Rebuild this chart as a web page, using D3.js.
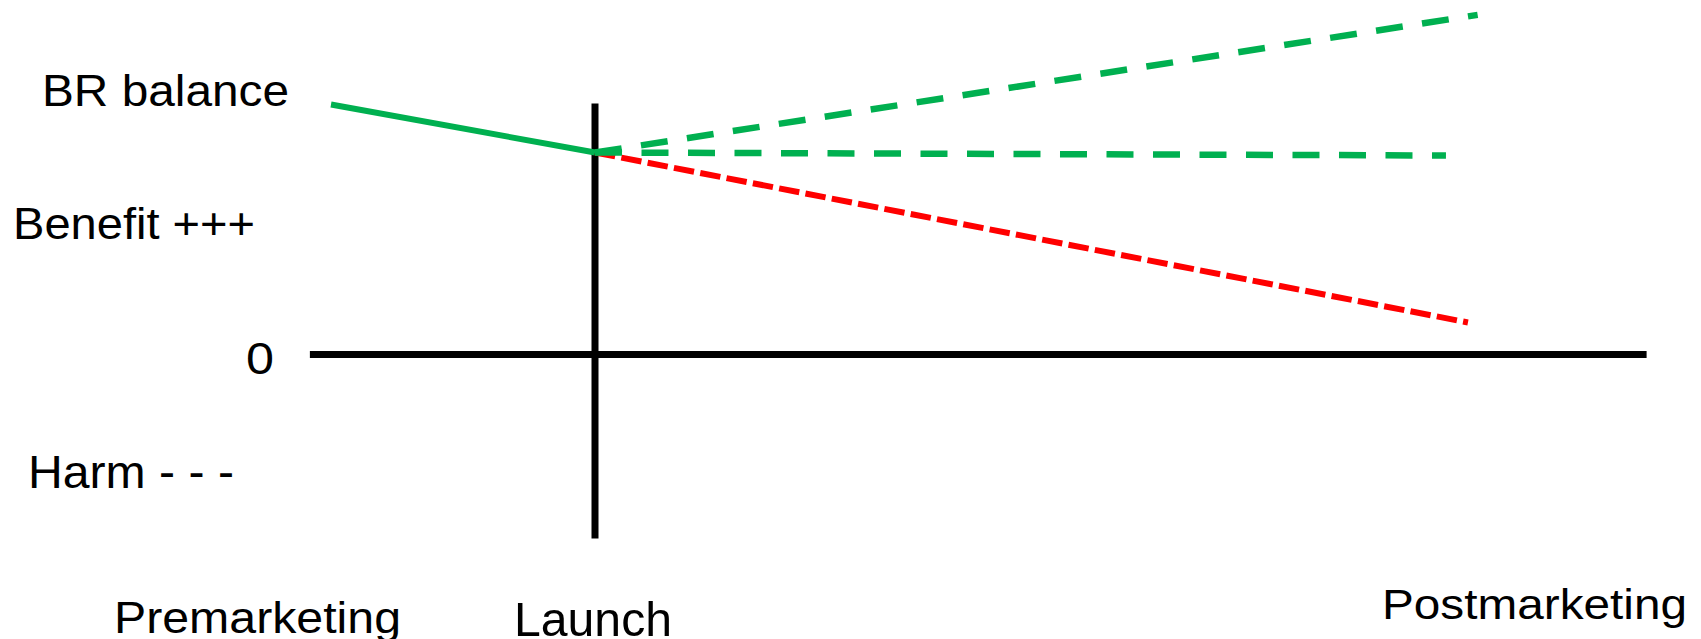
<!DOCTYPE html>
<html>
<head>
<meta charset="utf-8">
<script src="https://cdn.jsdelivr.net/npm/d3@7"></script>
<style>
	body { margin: 0; background: #fff; }
	text { font-family: "Liberation Sans", Arial, sans-serif; fill: #000; }
</style>
</head>
<body>
<svg id="chart"></svg>
<script>
// time in arbitrary units, launch = 0; BR balance in arbitrary units, 0 = neutral
const preTime = [-3, 0];
const preBalance = [12.5, 10.1];

const optimisticTime = [0, 10.03];
const optimisticBalance = [10.1, 16.98];
const stableTime = [0, 9.67];
const stableBalance = [10.1, 9.95];
const worseningTime = [0, 9.92];
const worseningBalance = [10.1, 1.6];

const axisTime = [-3.24, 11.95]; // extent of the zero line
const launchBalance = [-9.2, 12.55]; // extent of the launch line

const yLabels = ["BR balance", "Benefit +++", "0", "Harm - - -"];
const phases = ["Premarketing", "Launch", "Postmarketing"];

const size = { w: 1701, h: 639 };
const green = "#00b050";
const red = "#ff0000";

let svg = d3.select("#chart").attr("width", size.w).attr("height", size.h);

let x = d3.scaleLinear().domain([-3, 10]).range([331, 1475]);
let y = d3.scaleLinear().domain([0, 17]).range([354.5, 14.5]);

let line = d3
	.line()
	.x((d) => x(d[0]))
	.y((d) => y(d[1]));

// zero line and launch line
svg.append("line")
	.attr("x1", x(axisTime[0]))
	.attr("x2", x(axisTime[1]))
	.attr("y1", y(0))
	.attr("y2", y(0))
	.attr("stroke", "#000")
	.attr("stroke-width", 7);

svg.append("line")
	.attr("x1", x(0))
	.attr("x2", x(0))
	.attr("y1", y(launchBalance[0]))
	.attr("y2", y(launchBalance[1]))
	.attr("stroke", "#000")
	.attr("stroke-width", 7);

let series = [
	{ t: worseningTime, v: worseningBalance, color: red, dash: "20.5,6.3", w: 6 },
	{ t: stableTime, v: stableBalance, color: green, dash: "27,19.5", w: 6.5 },
	{ t: optimisticTime, v: optimisticBalance, color: green, dash: "27,19.5", w: 6.5 },
	{ t: preTime, v: preBalance, color: green, dash: null, w: 6 }
];

svg.selectAll("path.series")
	.data(series)
	.join("path")
	.classed("series", true)
	.attr("d", (d) => line(d3.zip(d.t, d.v)))
	.attr("fill", "none")
	.attr("stroke", (d) => d.color)
	.attr("stroke-width", (d) => d.w)
	.attr("stroke-dasharray", (d) => d.dash);

// label layout: x, baseline, font size, width
let yLabelPos = [
	[42, 106, 44, 247],
	[13, 239, 44, 242],
	[246, 374, 45, 28],
	[28, 488, 47, 206]
];
svg.selectAll("text.ylabel")
	.data(yLabels)
	.join("text")
	.classed("ylabel", true)
	.attr("x", (d, i) => yLabelPos[i][0])
	.attr("y", (d, i) => yLabelPos[i][1])
	.attr("font-size", (d, i) => yLabelPos[i][2])
	.attr("textLength", (d, i) => yLabelPos[i][3])
	.attr("lengthAdjust", "spacingAndGlyphs")
	.text((d) => d);

let phasePos = [
	[114, 633, 44, 287],
	[514, 636, 48, 158],
	[1382, 619, 43, 305]
];
svg.selectAll("text.phase")
	.data(phases)
	.join("text")
	.classed("phase", true)
	.attr("x", (d, i) => phasePos[i][0])
	.attr("y", (d, i) => phasePos[i][1])
	.attr("font-size", (d, i) => phasePos[i][2])
	.attr("textLength", (d, i) => phasePos[i][3])
	.attr("lengthAdjust", "spacingAndGlyphs")
	.text((d) => d);
</script>
</body>
</html>
